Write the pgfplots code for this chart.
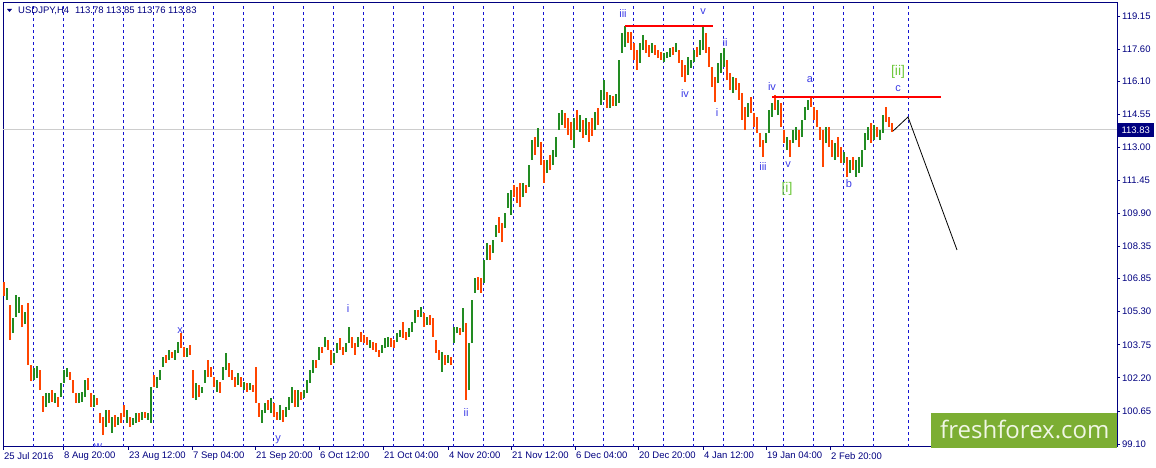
\documentclass[border=0pt]{standalone}
\usepackage{fontspec}
\setmainfont{Liberation Sans}
\newfontfamily\logofont{Open Sans}
\usepackage{pgfplots}
\usepackage{pgfplotstable}
\pgfplotsset{compat=1.18}

\definecolor{navyc}{RGB}{0,0,128}
\definecolor{gridc}{RGB}{20,20,210}
\definecolor{upc}{RGB}{34,139,34}
\definecolor{dnc}{RGB}{255,69,0}
\definecolor{wavec}{RGB}{60,60,230}
\definecolor{wavegc}{RGB}{110,200,60}
\definecolor{logoc}{RGB}{124,174,51}
\definecolor{lastc}{RGB}{205,205,205}

\newcommand\tickfont{\fontsize{9.5}{11}\selectfont}
\newcommand\wavefont{\fontsize{11}{12}\selectfont}
\newcommand\bigwavefont{\fontsize{14}{15}\selectfont}

\tikzset{
  wl/.style={font=\wavefont, text=wavec, inner sep=0pt},
  wg/.style={font=\bigwavefont, text=wavegc, inner sep=0pt},
}

% USDJPY H4 bars: x (chart column), low, high, d (1 = up, 0 = down)
\pgfplotstableread{
x lo hi d
4 106.04 106.69 0
7 105.85 106.41 1
10 103.97 105.61 0
13 104.30 105.01 1
16 105.05 106.08 1
19 105.24 105.99 1
22 104.58 105.61 0
25 104.72 105.29 1
28 102.80 105.71 0
31 102.05 102.80 0
34 102.10 102.66 1
37 102.19 102.76 1
40 101.63 102.57 0
43 100.60 101.35 0
46 100.84 101.49 1
49 101.02 101.49 1
52 101.07 101.63 0
55 101.02 101.49 1
58 100.84 101.30 0
61 101.30 101.96 1
64 101.96 102.57 1
67 102.24 102.66 1
70 102.10 102.48 0
73 101.49 102.10 0
76 101.02 101.49 0
79 101.02 101.49 1
82 101.07 101.54 1
85 101.30 102.10 1
88 101.63 102.19 0
91 100.84 101.49 0
94 100.84 101.40 1
97 100.93 101.26 0
100 100.09 100.56 0
103 99.52 100.37 0
106 99.90 100.70 1
109 100.09 100.70 0
112 99.62 100.37 1
115 99.90 100.46 0
118 99.99 100.37 1
121 100.09 100.56 0
124 100.37 100.93 0
127 100.09 100.70 1
130 99.90 100.37 0
133 99.99 100.32 1
136 100.09 100.56 1
139 100.13 100.56 0
142 100.23 100.60 1
145 100.32 100.60 0
148 100.23 100.56 1
151 100.09 101.77 1
154 101.77 102.34 0
157 101.73 102.24 1
160 102.10 102.57 1
163 102.71 103.18 1
166 102.90 103.27 0
169 103.04 103.51 1
172 103.13 103.41 0
175 103.04 103.51 1
178 103.37 103.88 1
181 103.60 104.30 0
184 103.18 103.65 0
187 103.18 103.60 1
190 103.27 103.74 0
193 101.26 102.57 0
196 101.16 101.96 1
199 101.30 101.87 0
202 101.49 101.77 1
205 101.96 102.57 1
208 102.24 103.04 0
211 102.24 102.71 0
214 101.77 102.24 0
217 101.54 102.10 1
220 101.49 102.01 0
223 102.10 102.71 1
226 102.57 103.37 1
229 102.24 102.90 0
232 102.10 102.57 0
235 101.77 102.24 0
238 101.87 102.43 1
241 101.77 102.24 0
244 101.63 102.01 1
247 101.54 101.96 0
250 101.63 101.96 1
253 101.54 101.87 0
256 101.02 102.71 0
259 100.37 101.02 0
262 100.09 100.70 1
265 100.56 101.02 1
268 100.70 101.16 0
271 100.56 101.26 1
274 100.37 101.02 0
277 100.23 100.60 0
280 100.23 100.93 1
283 100.13 100.70 0
286 100.37 100.84 1
289 100.70 101.30 1
292 101.02 101.77 1
295 100.84 101.63 0
298 100.84 101.63 1
301 101.16 101.54 0
304 101.26 101.63 1
307 101.49 102.10 1
310 101.96 102.57 1
313 102.43 103.04 1
316 102.66 103.04 0
319 103.04 103.65 1
322 103.37 103.65 0
325 103.65 104.12 1
328 103.51 103.97 0
331 102.80 103.51 0
334 102.90 103.37 1
337 103.37 103.83 1
340 103.51 104.07 0
343 103.27 103.65 0
346 103.41 103.83 1
349 103.83 104.58 1
352 103.60 104.12 0
355 103.27 103.83 0
358 103.65 104.12 1
361 103.88 104.35 0
364 103.83 104.21 0
367 103.74 104.12 0
370 103.60 103.97 1
373 103.51 103.88 0
376 103.41 103.83 0
379 103.18 103.51 0
382 103.37 103.74 1
385 103.60 104.07 1
388 103.65 104.12 1
391 103.65 104.07 0
394 103.60 103.97 0
397 103.88 104.30 1
400 104.12 104.44 1
403 104.07 104.82 0
406 103.97 104.35 0
409 104.12 104.54 1
412 104.35 104.82 1
415 104.77 105.38 1
418 105.05 105.38 0
421 105.05 105.52 1
424 104.58 105.24 0
427 104.68 105.05 1
430 104.68 105.15 0
433 104.12 105.01 0
436 103.37 103.97 0
439 103.04 103.51 0
442 102.48 103.41 1
445 102.80 103.27 0
448 102.90 103.27 1
451 102.80 103.18 0
454 103.83 104.58 1
457 104.30 104.58 1
460 104.21 104.54 0
463 104.35 105.47 1
466 101.16 104.77 0
469 101.63 103.83 1
472 103.83 105.85 1
475 106.18 106.88 1
478 106.32 106.93 0
481 106.18 106.88 0
484 106.64 107.72 1
487 107.72 108.52 1
490 107.72 108.42 0
493 108.05 108.66 1
496 108.80 109.36 1
499 108.99 109.74 0
502 108.56 109.45 0
505 109.22 109.92 1
508 110.16 110.86 1
511 109.83 111.00 1
514 110.67 111.23 0
517 110.39 111.14 0
520 110.20 111.33 0
523 110.67 111.33 1
526 110.86 111.23 0
529 111.14 112.17 1
532 112.41 113.34 1
535 112.64 113.48 0
538 113.01 113.90 1
541 112.17 113.25 0
544 111.33 112.41 0
547 111.80 112.41 1
550 111.94 112.64 0
553 112.17 112.87 1
556 112.55 113.48 1
559 113.81 114.61 1
562 114.05 114.75 1
565 113.90 114.61 0
568 113.58 114.37 0
571 113.34 114.19 0
574 112.97 114.37 1
577 113.81 114.75 0
580 113.72 114.51 1
583 113.44 114.28 0
586 113.58 114.37 1
589 113.25 114.19 0
592 113.53 114.37 0
595 113.81 114.65 1
598 114.05 114.84 0
601 114.98 115.68 1
604 115.22 116.15 1
607 114.84 115.59 0
610 114.84 115.45 1
613 114.94 115.40 0
616 114.94 115.50 1
619 115.08 117.09 1
622 117.42 118.35 1
625 117.70 118.68 1
628 117.89 118.40 0
631 117.56 118.40 0
634 117.09 117.89 0
637 116.62 117.56 0
640 116.95 117.89 1
643 117.56 118.26 1
646 117.42 118.03 0
649 117.23 117.79 0
652 117.42 117.89 1
655 117.32 117.79 0
658 117.18 117.56 0
661 117.09 117.46 0
664 117.00 117.42 1
667 117.18 117.46 1
670 117.23 117.65 1
673 117.32 117.70 0
676 117.46 117.89 1
679 116.95 117.56 0
682 116.29 117.09 0
685 116.06 116.86 0
688 116.39 117.23 1
691 116.72 117.09 1
694 117.00 117.56 1
697 117.23 117.70 0
700 117.32 118.03 1
703 117.56 118.68 1
706 117.42 118.35 0
709 116.76 117.70 0
712 115.83 116.76 0
715 115.12 116.29 0
718 116.01 116.95 1
721 116.48 117.42 1
724 116.76 117.65 1
727 116.15 117.09 0
730 115.68 116.48 0
733 115.54 116.29 1
736 115.68 116.25 0
739 115.22 116.01 0
742 114.28 115.54 0
745 113.81 114.89 0
748 114.42 115.08 1
751 114.61 115.36 0
754 113.95 114.61 0
757 113.67 114.42 0
760 113.01 113.67 0
763 112.55 113.34 0
766 113.20 113.67 1
769 113.67 114.75 1
772 114.42 115.08 1
775 114.75 115.45 0
778 114.51 115.22 1
781 113.95 115.08 0
784 113.20 113.81 0
787 112.87 113.48 1
790 112.55 113.34 0
793 113.20 113.81 1
796 113.34 113.95 1
799 113.01 113.81 0
802 113.48 114.28 1
805 114.28 114.89 1
808 114.75 115.22 1
811 114.89 115.36 0
814 114.28 114.89 0
817 113.95 114.75 0
820 113.34 113.95 0
823 112.08 113.81 0
826 113.20 113.95 1
829 113.01 113.95 0
832 112.55 113.34 0
835 112.41 113.20 1
838 112.55 113.48 0
841 112.26 113.01 0
844 112.26 112.78 1
847 111.61 112.55 0
850 111.80 112.41 1
853 111.94 112.55 0
856 111.61 112.41 1
859 111.80 112.55 1
862 112.08 112.87 1
865 112.87 113.67 1
868 113.34 113.95 1
871 113.20 114.14 0
874 113.34 114.05 1
877 113.48 113.95 0
880 113.34 113.81 1
883 113.67 114.51 1
886 114.19 114.89 0
889 113.95 114.42 0
892 113.72 114.14 0
}\bars

\begin{document}
\begin{tikzpicture}
\useasboundingbox (0,0) rectangle (1156pt,468pt);
\begin{axis}[
  at={(3pt,21pt)}, anchor=south west,
  scale only axis, width=1114pt, height=444pt,
  xmin=3, xmax=1117, ymin=98.96, ymax=119.76,
  clip=false,
  axis line style={navyc, line width=1pt},
  tick style={navyc, line width=0.8pt},
  major tick length=3pt,
  tick align=outside,
  xtick pos=left, ytick pos=right,
  yticklabel pos=right,
  xtick={3,63,128,192,255,319,383,448,511,575,638,703,766,830},
  xticklabels={25 Jul 2016,8 Aug 20:00,23 Aug 12:00,7 Sep 04:00,21 Sep 20:00,6 Oct 12:00,21 Oct 04:00,4 Nov 20:00,21 Nov 12:00,6 Dec 04:00,20 Dec 20:00,4 Jan 12:00,19 Jan 04:00,2 Feb 20:00},
  ytick={99.10,100.65,102.20,103.75,105.30,106.85,108.35,109.90,111.45,113.00,114.55,116.10,117.60,119.15},
  yticklabels={99.10,100.65,102.20,103.75,105.30,106.85,108.35,109.90,111.45,113.00,114.55,116.10,117.60,119.15},
  ticklabel style={font=\tickfont, text=navyc},
  xticklabel style={anchor=north west, inner sep=0pt, xshift=1pt, yshift=-2pt},
  yticklabel style={anchor=west, inner sep=0pt, xshift=2pt},
]
% weekly separators
\pgfplotsinvokeforeach{33.5,63.5,93.5,123.5,153.5,183.5,213.5,243.5,273.5,303.5,
  333.5,363.5,393.5,423.5,453.5,483.5,513.5,543.5,573.5,603.5,633.5,663.5,693.5,
  723.5,753.5,783.5,813.5,843.5,873.5,908.5}{
  \addplot[gridc, line width=0.9pt, dash pattern=on 3pt off 3pt, forget plot]
    coordinates {(#1,98.96) (#1,119.76)};
}
% last price line
\addplot[lastc, line width=0.8pt] coordinates {(3,113.83) (1117,113.83)};

% bars: up (green) and down (orange), drawn as low-to-high segments
\addplot[-, quiver={u=0, v=(\thisrow{hi}-\thisrow{lo})*\thisrow{d},
    every arrow/.append style={draw=upc, line width=1.7pt, line cap=butt}}]
  table[x=x, y=lo] {\bars};
\addplot[-, quiver={u=0, v=(\thisrow{hi}-\thisrow{lo})*(1-\thisrow{d}),
    every arrow/.append style={draw=dnc, line width=1.7pt, line cap=butt}}]
  table[x=x, y=lo] {\bars};

% resistance lines
\addplot[red, line width=2pt] coordinates {(625,118.68) (713,118.68)};
\addplot[red, line width=2pt] coordinates {(772,115.36) (941,115.36)};

% projected path
\addplot[black, line width=0.8pt] coordinates {(893,113.76) (908,114.42) (957,108.19)};

% wave labels
\node[wl] at (axis cs:180,104.40) {x};
\begin{scope}
  \clip (axis cs:3,98.96) rectangle (axis cs:1117,119.76);
  \node[wl] at (axis cs:98,98.99) {w};
\end{scope}
\node[wl] at (axis cs:278,99.29) {y};
\node[wl] at (axis cs:348,105.47) {i};
\node[wl] at (axis cs:466,100.56) {ii};
\node[wl] at (axis cs:623,119.29) {iii};
\node[wl] at (axis cs:703,119.34) {v};
\node[wl] at (axis cs:685,115.50) {iv};
\node[wl] at (axis cs:717,114.65) {i};
\node[wl] at (axis cs:725,117.89) {ii};
\node[wl] at (axis cs:763,112.12) {iii};
\node[wl] at (axis cs:772,115.83) {iv};
\node[wl] at (axis cs:788,112.17) {v};
\node[wg] at (axis cs:787,111.05) {[i]};
\node[wl] at (axis cs:810,116.15) {a};
\node[wl] at (axis cs:849,111.28) {b};
\node[wg] at (axis cs:898,116.53) {[ii]};
\node[wl] at (axis cs:898,115.73) {c};
\end{axis}

% header
\fill[navyc] (7pt,459pt) -- (12pt,459pt) -- (9.5pt,456pt) -- cycle;
\node[anchor=west, inner sep=0pt, text=navyc, font=\tickfont] at (18pt,457pt)
  {USDJPY,H4\hspace{6pt}113.78 113.85 113.76 113.83};

% last price box
\node[fill=navyc, text=white, font=\tickfont, inner sep=0pt,
  minimum height=14pt, minimum width=36pt, anchor=west] at (1117.5pt,338pt) {113.83};

% logo
\fill[logoc] (931pt,20pt) rectangle (1117pt,55pt);
\node[text={rgb,255:red,240;green,246;blue,228}, font=\logofont\fontsize{24}{24}\selectfont,
  anchor=base west, inner sep=0pt] at (940pt,29pt) {freshforex.com};
\end{tikzpicture}
\end{document}
